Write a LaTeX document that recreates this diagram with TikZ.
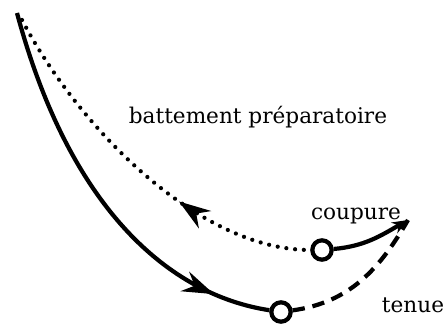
\documentclass[tikz,border=0pt]{standalone}
\usepackage{fontspec}
\setmainfont{DejaVu Serif}
\usetikzlibrary{arrows.meta,decorations.markings}
\tikzset{->-/.style={decoration={
      markings,
      mark=at position #1 with {\arrow{Stealth[length=18pt,width=12pt,inset=6pt]}}},postaction={decorate}}}
\tikzset{-<-/.style={decoration={
      markings,
      mark=at position #1 with {\arrowreversed{Stealth[length=18pt,width=12pt,inset=6pt]}}},postaction={decorate}}}
\tikzset{pivot/.style={circle, draw, fill=white, minimum size=11pt, inner sep=0pt}}
\tikzset{lbl/.style={anchor=base, inner sep=0pt, font=\fontsize{12.3}{14}\selectfont}}

\begin{document}
\begin{tikzpicture}[x=0.02cm, y=0.02cm, line width=2.4pt]
    \useasboundingbox (0,0) rectangle (447,324);
    \coordinate (s) at (17,311);
    \coordinate (d) at (22,304);
    \coordinate (t) at (408,104);
    \node[pivot] (up) at (322,74) {};
    \node[pivot] (lo) at (281,12) {};
    \node[lbl] (prep) at (258,200) {battement préparatoire};
    \node[lbl] (coup) at (356,104) {coupure};
    \node[lbl] (ten) at (413,11) {tenue};
    \draw[->-=0.86] (s) .. controls (70,114) and (170,29) .. (lo);
    \draw[-<-=0.63, line cap=round, dash pattern=on 0pt off 5pt] (d) .. controls (80,194) and (200,74) .. (up);
    \draw[-{Stealth[length=9pt,width=7pt]}] (up) to[out=5,in=210] (t);
    \draw[dash pattern=on 7pt off 4.5pt] (lo) to[out=8,in=240] (t);
  \end{tikzpicture}
\end{document}
